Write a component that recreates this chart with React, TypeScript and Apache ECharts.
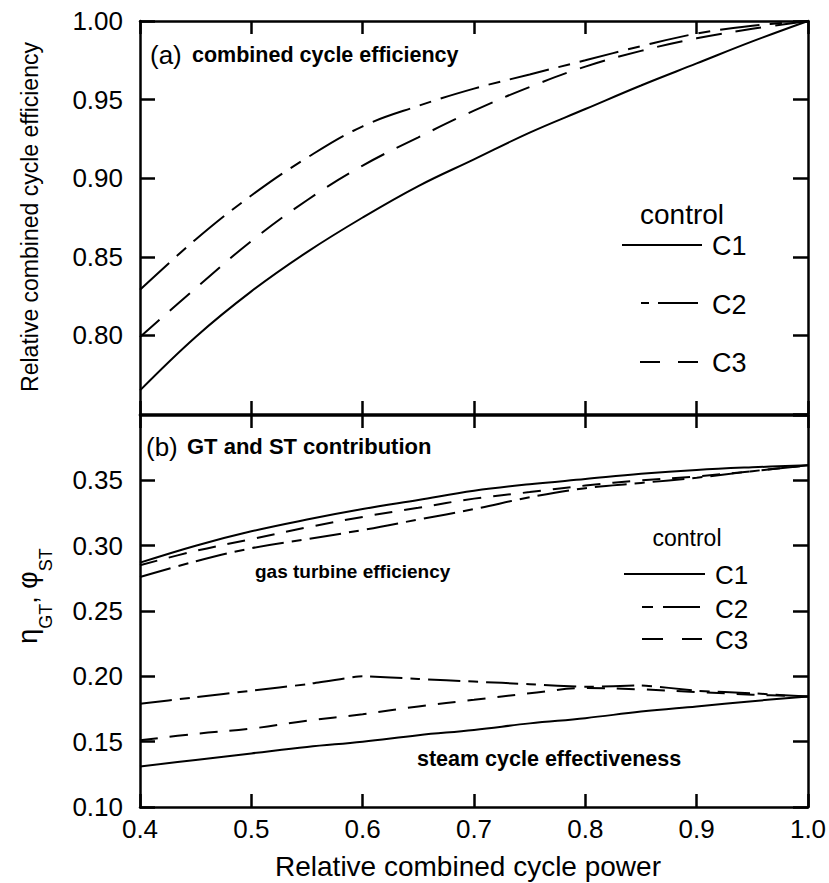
import React, { useEffect, useRef } from 'react';
import * as echarts from 'echarts';

const FONT = "'Liberation Sans', Arial, Helvetica, sans-serif";

// relative combined cycle power (x)
const powerX = [0.40, 0.45, 0.50, 0.55, 0.60, 0.65, 0.70, 0.75, 0.80, 0.85, 0.90, 0.95, 1.00];

// (a) relative combined cycle efficiency
const effC1 = [0.765, 0.799, 0.828, 0.853, 0.875, 0.895, 0.912, 0.929, 0.944, 0.959, 0.973, 0.987, 1.000];
const effC2 = [0.829, 0.861, 0.889, 0.913, 0.933, 0.946, 0.957, 0.966, 0.975, 0.984, 0.992, 0.997, 1.000];
const effC3 = [0.799, 0.830, 0.860, 0.886, 0.908, 0.926, 0.943, 0.958, 0.971, 0.981, 0.989, 0.995, 1.000];

// (b) gas turbine efficiency
const gtC1 = [0.287, 0.300, 0.311, 0.320, 0.328, 0.335, 0.342, 0.347, 0.351, 0.355, 0.358, 0.360, 0.3615];
const gtC2 = [0.276, 0.288, 0.298, 0.305, 0.312, 0.320, 0.328, 0.337, 0.344, 0.348, 0.352, 0.357, 0.3615];
const gtC3 = [0.285, 0.296, 0.305, 0.314, 0.322, 0.329, 0.336, 0.341, 0.346, 0.350, 0.353, 0.357, 0.3615];

// (b) steam cycle effectiveness
const stC1 = [0.131, 0.136, 0.141, 0.146, 0.150, 0.155, 0.159, 0.164, 0.168, 0.173, 0.177, 0.181, 0.1845];
const stC2 = [0.179, 0.184, 0.189, 0.194, 0.200, 0.198, 0.196, 0.194, 0.192, 0.193, 0.189, 0.187, 0.1845];
const stC3 = [0.151, 0.156, 0.160, 0.166, 0.171, 0.177, 0.182, 0.187, 0.191, 0.190, 0.188, 0.186, 0.1845];

const xTicks = { min: 0.4, max: 1.0, interval: 0.1 };
const yTopTicks = { min: 0.75, max: 1.0, interval: 0.05 };
const yBotTicks = { min: 0.10, max: 0.40, interval: 0.05 };

const dashTopC2 = [40, 10, 12, 10];
const dashTopC3 = [26, 14];
const dashBotC2 = [32, 8, 10, 8];
const dashBotC3 = [18, 12];

export default function App() {
  const ref = useRef<HTMLDivElement>(null);

  useEffect(() => {
    if (!ref.current) return;
    const chart = echarts.init(ref.current, undefined, { renderer: 'svg' });

    const axisLineStyle = { color: '#000', width: 2.5 };
    const labelStyle = { color: '#000', fontSize: 26, fontFamily: FONT };

    const xAxisDef = (grid: number, pos: string, showLabel: boolean) => ({
      type: 'value', gridIndex: grid, position: pos, ...xTicks,
      axisLine: { show: true, onZero: false, lineStyle: axisLineStyle },
      axisTick: { show: true, inside: true, length: 13, lineStyle: { color: '#000', width: 2.5 } },
      axisLabel: { show: showLabel, margin: 9, ...labelStyle, formatter: (v: number) => v.toFixed(1) },
      splitLine: { show: false },
    });
    const yAxisDef = (grid: number, pos: string, showLabel: boolean, ticks: any, extra: any) => ({
      type: 'value', gridIndex: grid, position: pos, ...ticks,
      axisLine: { show: true, onZero: false, lineStyle: axisLineStyle },
      axisTick: { show: true, inside: true, length: 15, lineStyle: { color: '#000', width: 2.5 } },
      axisLabel: { show: showLabel, margin: 17, ...labelStyle, formatter: (v: number) => v.toFixed(2), ...extra },
      splitLine: { show: false },
    });

    const mk = (name: string, ys: number[], xi: number, yi: number, dash: any, smooth: number = 0.4) => ({
      type: 'line', name, xAxisIndex: xi, yAxisIndex: yi,
      data: powerX.map((x, i) => [x, ys[i]]),
      showSymbol: false, symbol: 'none', smooth, silent: true,
      lineStyle: { color: '#000', width: 2, type: dash },
    });

    const txt = (text: string, x: number, y: number, size: number, bold = false, align = 'left') => ({
      type: 'text', x, y, silent: true, z: 10,
      style: { text, fill: '#000', fontSize: size, fontFamily: FONT, fontWeight: bold ? 'bold' : 'normal', align, verticalAlign: 'middle' },
    });
    const seg = (x1: number, y1: number, x2: number, y2: number) => ({
      type: 'line', silent: true, z: 10, shape: { x1, y1, x2, y2 }, style: { stroke: '#000', lineWidth: 2 },
    });

    const option: any = {
      animation: false,
      backgroundColor: '#fff',
      grid: [
        { left: 140, top: 21, width: 668, height: 393, outerBoundsMode: 'none' },
        { left: 140, top: 415, width: 668, height: 392, outerBoundsMode: 'none' },
      ],
      xAxis: [
        xAxisDef(0, 'bottom', false),
        xAxisDef(0, 'top', false),
        xAxisDef(1, 'bottom', true),
        xAxisDef(1, 'top', false),
      ],
      yAxis: [
        yAxisDef(0, 'left', true, yTopTicks, { showMinLabel: false }),
        yAxisDef(0, 'right', false, yTopTicks, {}),
        yAxisDef(1, 'left', true, yBotTicks, { showMaxLabel: false }),
        yAxisDef(1, 'right', false, yBotTicks, {}),
      ],
      series: [
        mk('C1', effC1, 0, 0, 'solid'),
        mk('C2', effC2, 0, 0, dashTopC2),
        mk('C3', effC3, 0, 0, dashTopC3),
        mk('C1 gas turbine', gtC1, 2, 2, 'solid'),
        mk('C2 gas turbine', gtC2, 2, 2, dashBotC2),
        mk('C3 gas turbine', gtC3, 2, 2, dashBotC3),
        mk('C1 steam', stC1, 2, 2, 'solid'),
        mk('C2 steam', stC2, 2, 2, dashBotC2, 0.15),
        mk('C3 steam', stC3, 2, 2, dashBotC3),
      ],
      graphic: [
        // axis titles
        {
          type: 'text', x: 30, y: 217, rotation: Math.PI / 2, silent: true,
          style: { text: 'Relative combined cycle efficiency', fill: '#000', fontSize: 23, fontFamily: FONT, align: 'center', verticalAlign: 'middle' },
        },
        {
          type: 'text', x: 28, y: 596, rotation: Math.PI / 2, silent: true,
          style: {
            text: '{m|η}{s|GT}{m|, φ}{s|ST}', fill: '#000', fontFamily: FONT, align: 'center', verticalAlign: 'middle',
            rich: {
              m: { fontSize: 27, lineHeight: 27, verticalAlign: 'top', fontFamily: FONT, fill: '#000' },
              s: { fontSize: 18, lineHeight: 18, padding: [22, 0, 0, 0], verticalAlign: 'top', fontFamily: FONT, fill: '#000' },
            },
          },
        },
        txt('Relative combined cycle power', 468, 866, 28, false, 'center'),
        // panel (a)
        txt('(a)', 150, 55, 26),
        txt('combined cycle efficiency', 192, 55, 21.5, true),
        txt('control', 682, 214, 28, false, 'center'),
        seg(622, 245, 702, 245),
        txt('C1', 712, 246, 27),
        seg(641, 303, 649, 303), seg(658, 303, 698, 303),
        txt('C2', 712, 305, 27),
        seg(640, 362, 660, 362), seg(678, 362, 698, 362),
        txt('C3', 712, 363, 27),
        // panel (b)
        txt('(b)', 146, 447, 26),
        txt('GT and ST contribution', 187, 446, 22, true),
        txt('gas turbine efficiency', 255, 571, 19, true),
        txt('steam cycle effectiveness', 417, 759, 21.5, true),
        txt('control', 687, 538, 23, false, 'center'),
        seg(624, 574, 705, 574),
        txt('C1', 715, 575, 26),
        seg(642, 607, 653, 607), seg(663, 607, 700, 607),
        txt('C2', 715, 609, 26),
        seg(642, 639, 663, 639), seg(682, 639, 702, 639),
        txt('C3', 715, 640, 26),
      ],
    };

    chart.setOption(option);
    return () => chart.dispose();
  }, []);

  return (
    <div
      ref={ref}
      style={{ position: 'fixed', left: 0, top: 0, width: 829, height: 883, background: '#fff' }}
    />
  );
}
